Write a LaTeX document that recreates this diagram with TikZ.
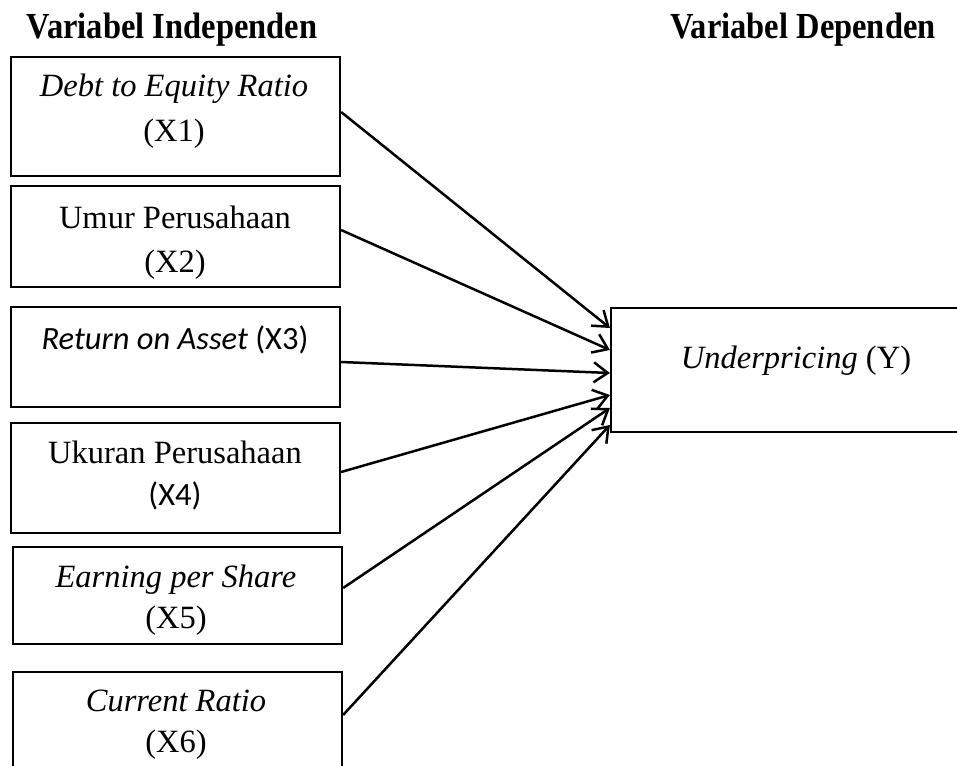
\documentclass[tikz,border=0pt]{standalone}
\usepackage{fontspec}
\usepackage{graphicx}
\setmainfont{Liberation Serif}
\newfontfamily\calibri{Carlito}
\usetikzlibrary{arrows.meta}
\tikzset{
  box/.style={draw, line width=2.2pt, rectangle, inner sep=0pt},
  lbl/.style={anchor=base, inner sep=0pt, font=\fontsize{32.5}{39}\selectfont},
  ttl/.style={anchor=base, inner sep=0pt, font=\fontsize{32.5}{39}\selectfont\bfseries},
  conn/.style={line width=2.5pt, -{Straight Barb[length=14pt, width=20pt, line width=2.5pt]}}
}
\newcommand{\tallbox}[1]{\scalebox{1}[1.13]{#1}}
\begin{document}
\begin{tikzpicture}[x=1pt, y=1pt]
\useasboundingbox (0,0) rectangle (957,-765);
\clip (0,0) rectangle (957,-765);
% titles
\node[ttl] (h1) at (172,-39) {\tallbox{Variabel Independen}};
\node[ttl] (h2) at (803,-39) {\tallbox{Variabel Dependen}};
% boxes
\node[box, minimum width=329pt, minimum height=119pt] (b1) at (175.5,-116.5) {};
\node[box, minimum width=329pt, minimum height=101pt] (b2) at (175.5,-236.5) {};
\node[box, minimum width=329pt, minimum height=100pt] (b3) at (175.5,-357) {};
\node[box, minimum width=329pt, minimum height=110pt] (b4) at (175.5,-478) {};
\node[box, minimum width=329pt, minimum height=97pt] (b5) at (177.5,-595.5) {};
\node[box, minimum width=329pt, minimum height=118pt] (b6) at (177.5,-731) {};
\node[box, minimum width=369pt, minimum height=124pt] (y) at (795.5,-370) {};
% texts
\node[lbl] (t1a) at (174,-97) {\textit{Debt to Equity Ratio}};
\node[lbl] (t1b) at (174,-141) {(X1)};
\node[lbl] (t2a) at (175,-228) {Umur Perusahaan};
\node[lbl] (t2b) at (175,-272) {(X2)};
\node[lbl] (t3a) at (175,-349) {\calibri\textit{Return on Asset} (X3)};
\node[lbl] (t4a) at (175,-463) {Ukuran Perusahaan};
\node[lbl] (t4b) at (175,-505) {\calibri (X4)};
\node[lbl] (t5a) at (176,-587) {\textit{Earning per Share}};
\node[lbl] (t5b) at (176,-628) {(X5)};
\node[lbl] (t6a) at (176,-711) {\textit{Current Ratio}};
\node[lbl] (t6b) at (176,-752) {(X6)};
\node[lbl] (ty) at (796,-368) {\textit{Underpricing} (Y)};
% connectors
\draw[conn] ([yshift=4.5pt]b1.east) -- ([yshift=42pt]y.west);
\draw[conn] ([yshift=6.5pt]b2.east) -- ([yshift=20pt]y.west);
\draw[conn] ([yshift=-5pt]b3.east) -- ([yshift=-3pt]y.west);
\draw[conn] ([yshift=6pt]b4.east) -- ([yshift=-25pt]y.west);
\draw[conn] ([yshift=7.5pt]b5.east) -- ([yshift=-38pt]y.west);
\draw[conn] ([yshift=16pt]b6.east) -- ([yshift=-55pt]y.west);
\end{tikzpicture}
\end{document}
